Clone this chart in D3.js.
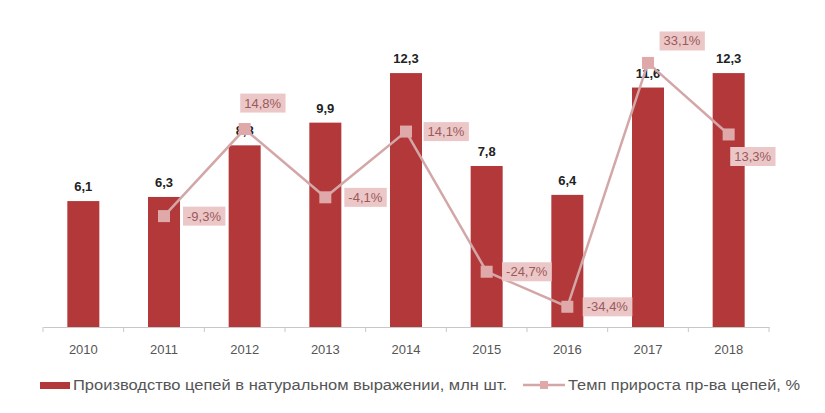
<!DOCTYPE html>
<html><head><meta charset="utf-8">
<script src="https://cdn.jsdelivr.net/npm/d3@7"></script>
<style>body{margin:0;background:#fff}svg{display:block}</style>
</head><body>
<svg id="c" width="825" height="413"></svg>
<script>
const years = ["2010","2011","2012","2013","2014","2015","2016","2017","2018"];
const production = [6.1,6.3,8.8,9.9,12.3,7.8,6.4,11.6,12.3];
const growthYears = ["2011","2012","2013","2014","2015","2016","2017","2018"];
const growth = [-9.3,14.8,-4.1,14.1,-24.7,-34.4,33.1,13.3];
const seriesNames = ["Производство цепей в натуральном выражении, млн шт.","Темп прироста пр-ва цепей, %"];

const fmt = v => String(v.toFixed(1)).replace(".", ",");
const svg = d3.select("#c");
const xb = d3.scaleBand().domain(years).range([43,769]);
const y = d3.scaleLinear().domain([0,14]).range([327,38]);
const y2 = d3.scaleLinear().domain([-40,40]).range([327,38]);
const cx = d => xb(d) + xb.bandwidth()/2;
const barW = 32;
const barColor = "#b2383a";
const lineColor = "#d3a7a7";

// bars
svg.selectAll("rect.bar").data(years).join("rect").attr("class","bar")
  .attr("x", d => cx(d) - barW/2).attr("width", barW)
  .attr("y", (d,i) => y(production[i])).attr("height", (d,i) => y(0) - y(production[i]))
  .attr("fill", barColor);

// axis
const ax = svg.append("g").attr("transform","translate(0,327)")
  .call(d3.axisBottom(xb).tickSize(0).tickPadding(18));
ax.select(".domain").attr("stroke","#c8c8c8");
ax.selectAll("text").attr("font-family","Liberation Sans, Arial").attr("font-size",13).attr("fill","#555");
svg.append("g").selectAll("line").data(years.concat(["end"])).join("line")
  .attr("x1", (d,i) => i < years.length ? xb(d) : xb.range()[1])
  .attr("x2", (d,i) => i < years.length ? xb(d) : xb.range()[1])
  .attr("y1",327).attr("y2",332).attr("stroke","#c8c8c8");

// bar labels
svg.selectAll("text.bl").data(years).join("text").attr("class","bl")
  .attr("x", d => cx(d)).attr("y", (d,i) => y(production[i]) - 10)
  .attr("text-anchor","middle").attr("font-family","Liberation Sans, Arial").attr("font-weight","bold")
  .attr("font-size",13).attr("fill","#222").text((d,i) => fmt(production[i]));

// line
const line = d3.line().x(d => cx(d[0])).y(d => y2(d[1]));
const pts = growthYears.map((d,i) => [d, growth[i]]);
svg.append("path").datum(pts).attr("d", line).attr("fill","none").attr("stroke",lineColor).attr("stroke-width",2.5);
svg.selectAll("rect.mk").data(pts).join("rect").attr("class","mk")
  .attr("x", d => cx(d[0]) - 6).attr("y", d => y2(d[1]) - 6).attr("width",12).attr("height",12)
  .attr("fill","#dfa9aa");

// line labels
const offs = {"2012":[18,-26],"2017":[34,-22],"2018":[24,22]};
const lg = svg.selectAll("g.ll").data(pts).join("g").attr("class","ll")
  .attr("transform", d => {
    const o = offs[d[0]] || [40, 0];
    return `translate(${cx(d[0]) + o[0]},${y2(d[1]) + o[1]})`;
  });
lg.each(function(d){
  const g = d3.select(this);
  const t = g.append("text").attr("text-anchor","middle").attr("dy","0.35em")
    .attr("font-family","Liberation Sans, Arial").attr("font-size",13).attr("fill","#9a5a5a")
    .text(fmt(d[1]) + "%");
  const bb = t.node().getBBox();
  g.insert("rect","text").attr("x", bb.x - 4).attr("y", bb.y - 2).attr("width", bb.width + 8).attr("height", bb.height + 4)
    .attr("fill","#ecc7c8");
});

// legend
const leg = svg.append("g").attr("transform","translate(40,385)");
leg.append("rect").attr("x",0).attr("y",-3).attr("width",30).attr("height",7).attr("fill",barColor);
leg.append("text").attr("x",33).attr("dy","0.35em").attr("font-family","Liberation Sans, Arial").attr("font-size",14)
  .attr("fill","#555").attr("textLength",434).attr("lengthAdjust","spacingAndGlyphs").text(seriesNames[0]);
const lx = 483;
leg.append("line").attr("x1",lx).attr("x2",lx+42).attr("stroke",lineColor).attr("stroke-width",2.5);
leg.append("rect").attr("x",lx+17).attr("y",-4).attr("width",8).attr("height",8).attr("fill","#dfa9aa");
leg.append("text").attr("x",lx+45).attr("dy","0.35em").attr("font-family","Liberation Sans, Arial").attr("font-size",14)
  .attr("fill","#555").attr("textLength",232).attr("lengthAdjust","spacingAndGlyphs").text(seriesNames[1]);
</script>
</body></html>
